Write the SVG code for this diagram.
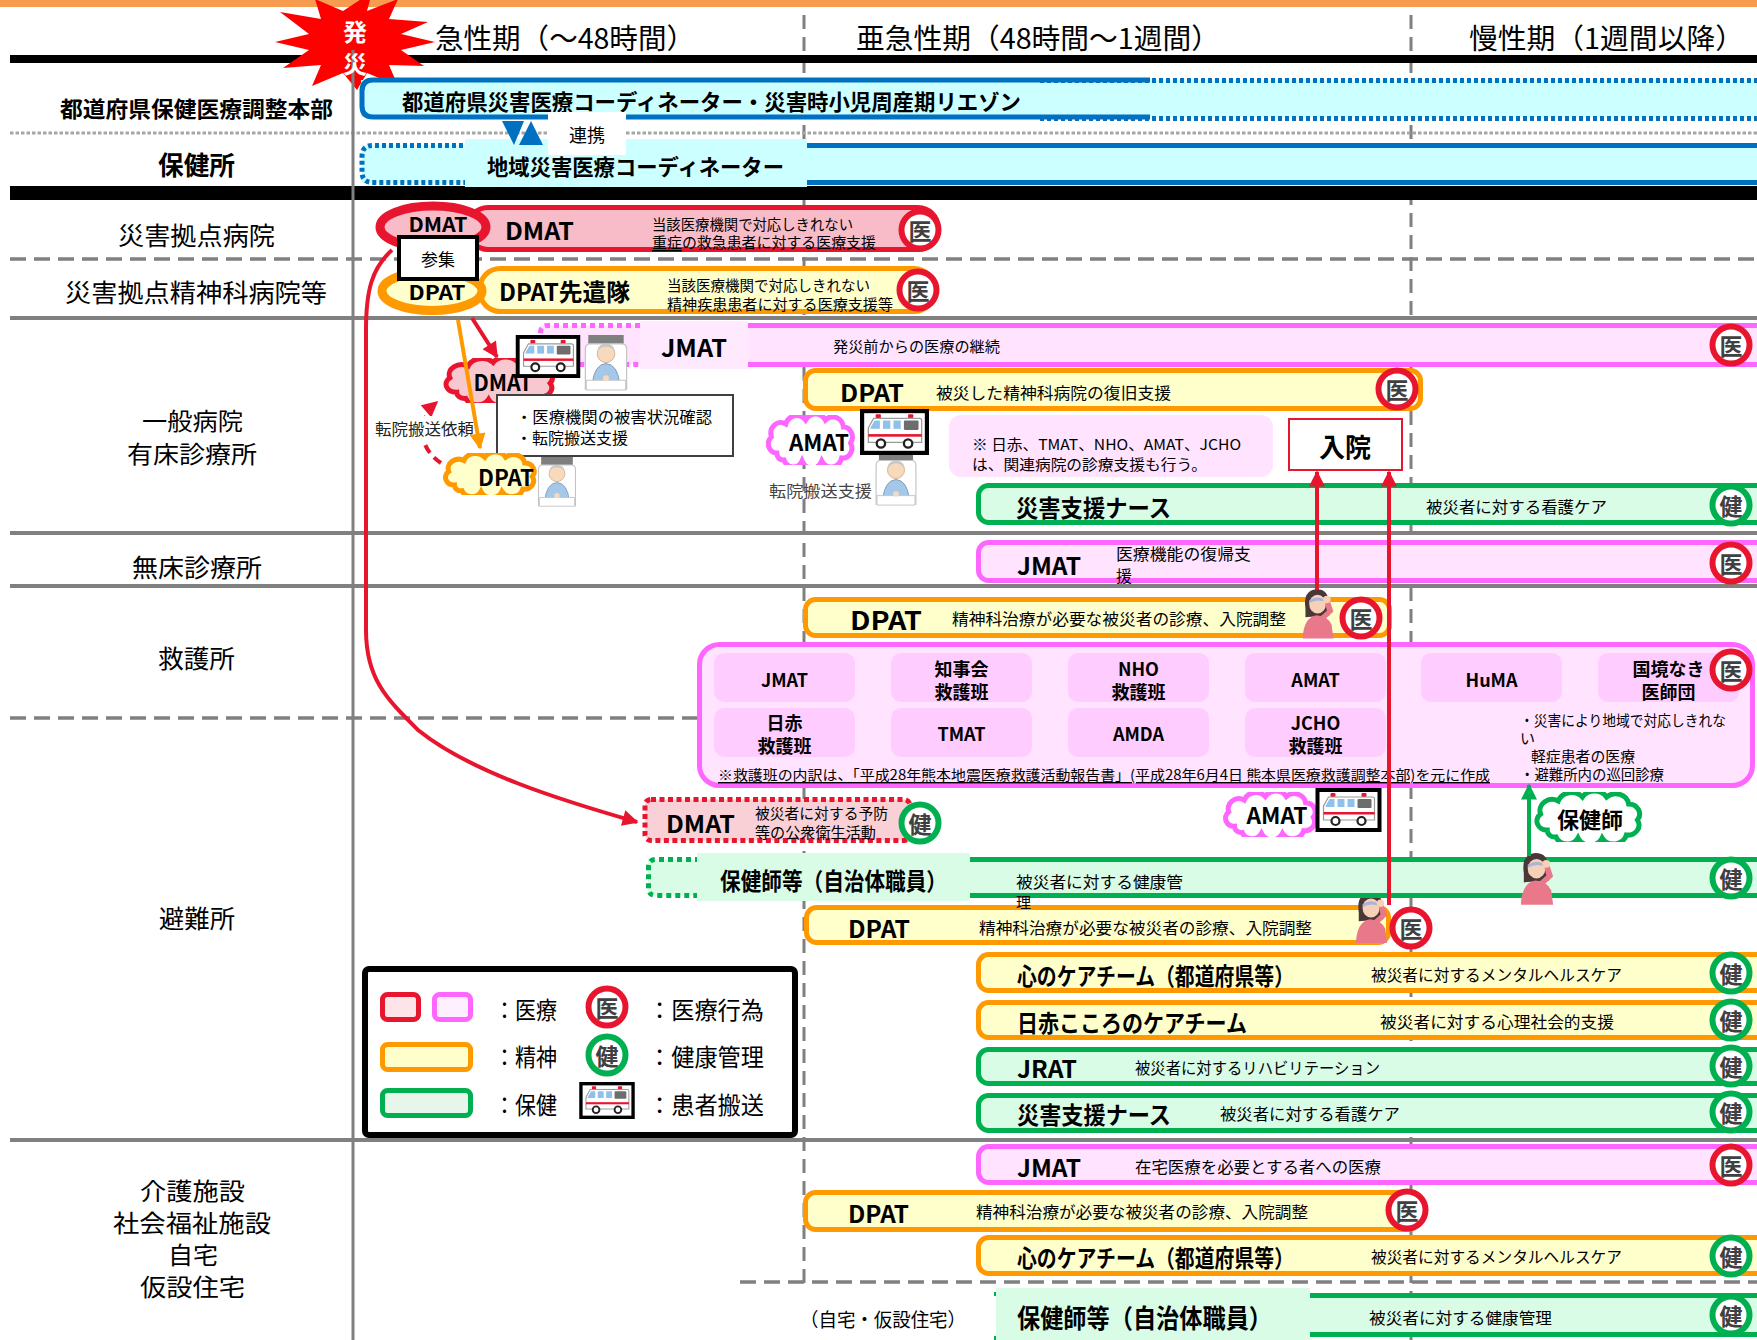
<svg xmlns="http://www.w3.org/2000/svg" width="1757" height="1340" viewBox="0 0 1757 1340">
<style>
text{font-family:"Noto Sans CJK JP","Noto Sans",sans-serif;dominant-baseline:central;fill:#000}
.b{font-weight:700}
.mid{text-anchor:middle}
.hd{font-size:28px}
.lb{font-size:25px;text-anchor:middle}
.lb2{font-size:24px;text-anchor:middle}
.ti{font-size:24px;font-weight:700}
.ds{font-size:16px}
.sm{font-size:15px}
.tile{font-size:18px;font-weight:700;text-anchor:middle}
.cl{font-size:22px;font-weight:700;text-anchor:middle}
.red{fill:#F8BCC8;stroke:#E8152F;stroke-width:5}
.pnk{fill:#FFE3FF;stroke:#FF66FF;stroke-width:5}
.org{fill:#FFFFCC;stroke:#FF9900;stroke-width:5}
.grn{fill:#D9FCE7;stroke:#00B050;stroke-width:5}
.gl{stroke:#808080;fill:none}
</style>
<defs>
<marker id="ar-red" viewBox="0 0 10 10" refX="9" refY="5" markerWidth="4.5" markerHeight="4" orient="auto" markerUnits="strokeWidth"><path d="M0,0 L10,5 L0,10 z" fill="#E8152F"/></marker>
<marker id="ar-org" viewBox="0 0 10 10" refX="9" refY="5" markerWidth="4.5" markerHeight="4" orient="auto" markerUnits="strokeWidth"><path d="M0,0 L10,5 L0,10 z" fill="#FF9900"/></marker>
<marker id="ar-grn" viewBox="0 0 10 10" refX="9" refY="5" markerWidth="4.5" markerHeight="4" orient="auto" markerUnits="strokeWidth"><path d="M0,0 L10,5 L0,10 z" fill="#00B050"/></marker>
<!-- medical-act badge -->
<symbol id="med" viewBox="-22 -22 44 44"><circle r="18.5" fill="#fff" stroke="#E8152F" stroke-width="6"/><text class="b" x="0" y="0" style="font-size:23px;text-anchor:middle;fill:#404040">医</text></symbol>
<!-- health-management badge -->
<symbol id="hlt" viewBox="-22 -22 44 44"><circle r="18.5" fill="#fff" stroke="#00B050" stroke-width="6"/><text class="b" x="0" y="0" style="font-size:23px;text-anchor:middle;fill:#404040">健</text></symbol>
<!-- scalloped cloud outline -->
<symbol id="cloud" viewBox="0 0 100 50" preserveAspectRatio="none"><path vector-effect="non-scaling-stroke" d="M12 38 A9 9 0 0 1 6 22 A11 11 0 0 1 22 9 A13 13 0 0 1 44 5 A13 13 0 0 1 66 5 A12 12 0 0 1 86 12 A10 10 0 0 1 94 28 A10 10 0 0 1 84 43 A12 12 0 0 1 62 46 A12 12 0 0 1 40 46 A11 11 0 0 1 20 45 A7 7 0 0 1 12 38 Z"/></symbol>
<!-- ambulance in a black frame -->
<symbol id="amb" viewBox="0 0 66 44">
<rect x="2" y="2" width="62" height="40" fill="#fff" stroke="#000" stroke-width="4"/>
<rect x="15" y="5" width="5" height="4" rx="1" fill="#E8152F"/>
<rect x="46" y="5" width="5" height="4" rx="1" fill="#E8152F"/>
<path d="M8 32 V18 L13 9 H57 Q59 9 59 11 V32 Z" fill="#fff" stroke="#9a9a9a" stroke-width="1.2"/>
<path d="M10 18 L14 11 H19 V19 H10 Z" fill="#8FC1EA"/>
<rect x="22" y="11" width="7" height="8" fill="#8FC1EA"/>
<rect x="32" y="11" width="7" height="8" fill="#8FC1EA"/>
<rect x="42" y="11" width="14" height="9" rx="1" fill="#6d6d6d"/>
<rect x="8" y="24" width="51" height="2.5" fill="#E8152F"/>
<circle cx="20" cy="33" r="4" fill="#fff" stroke="#222" stroke-width="2.2"/>
<circle cx="46" cy="33" r="4" fill="#fff" stroke="#222" stroke-width="2.2"/>
</symbol>
<!-- elderly patient in a bed -->
<symbol id="pat" viewBox="0 0 48 58">
<rect x="6" y="0" width="36" height="9" fill="#7f7f7f"/>
<path d="M3 56 V14 Q3 9 8 9 H40 Q45 9 45 14 V56" fill="#fff" stroke="#c4c4c4" stroke-width="1.2"/>
<path d="M10 50 Q12 30 24 29 Q36 30 38 50 Z" fill="#A6C8E8" stroke="#7a9ec0" stroke-width="1"/>
<circle cx="24" cy="19" r="9" fill="#F7D9BC" stroke="#c9a98a" stroke-width="0.8"/>
<path d="M15 17 Q16 9 24 9 Q32 9 33 17 Q30 12 24 12 Q18 12 15 17 Z" fill="#c8c8c8"/>
<path d="M4 46 H44 V56 H4 Z" fill="#fff" stroke="#c4c4c4" stroke-width="1"/>
<circle cx="24" cy="44" r="3" fill="#F7D9BC"/>
</symbol>
<!-- unwell person holding forehead -->
<symbol id="wmn" viewBox="0 0 44 56">
<path d="M8 24 Q5 4 20 3 Q33 3 33 18 L34 31 L8 33 Z" fill="#4a3838"/>
<ellipse cx="21" cy="19" rx="9" ry="10" fill="#F7D0B8"/>
<path d="M12 15 Q21 9 30 15 L30 17 Q21 13 12 18 Z" fill="#A9B5D6"/>
<path d="M5 56 Q6 33 20 31 Q32 32 36 41 L38 56 Z" fill="#E8788A"/>
<path d="M27 37 L38 27 L34 15 L29 17 L31 26 L23 33 Z" fill="#E8788A"/>
<circle cx="31" cy="14" r="4" fill="#F7D0B8"/>
</symbol>
</defs>

<rect width="1757" height="1340" fill="#fff"/>
<rect x="0" y="0" width="1757" height="7" fill="#F79B4F"/>

<!-- table grid -->
<g id="grid">
<line class="gl" x1="804" y1="15" x2="804" y2="1290" stroke-width="3" stroke-dasharray="14 8"/>
<line class="gl" x1="1411" y1="15" x2="1411" y2="1340" stroke-width="3" stroke-dasharray="14 8"/>
<rect x="10" y="55" width="1747" height="8" fill="#000"/>
<line x1="10" y1="133" x2="1757" y2="133" stroke="#A6A6A6" stroke-width="3" stroke-dasharray="3.5 2"/>
<rect x="10" y="186" width="1747" height="14" fill="#000"/>
<line class="gl" x1="10" y1="259" x2="1757" y2="259" stroke-width="3.5" stroke-dasharray="16 8"/>
<line class="gl" x1="10" y1="318" x2="1757" y2="318" stroke-width="4"/>
<line class="gl" x1="10" y1="533" x2="1757" y2="533" stroke-width="4"/>
<line class="gl" x1="10" y1="586" x2="1757" y2="586" stroke-width="4"/>
<line class="gl" x1="10" y1="718" x2="697" y2="718" stroke-width="3.5" stroke-dasharray="16 8"/>
<line class="gl" x1="10" y1="1140" x2="1757" y2="1140" stroke-width="4"/>
<line class="gl" x1="740" y1="1282" x2="1757" y2="1282" stroke-width="3.5" stroke-dasharray="16 8"/>
</g>

<!-- onset burst -->
<g id="onset">
<polygon points="435,42 401,50 424,66 389,65 398,86 367,73 357,90 343,73 312,86 321,65 283,68 309,50 275,42 309,34 280,12 321,19 315,-1 343,11 372,-8 367,11 398,-1 389,19 428,22 401,34" fill="#FF0000"/>
<line class="gl" x1="353" y1="50" x2="353" y2="1340" stroke-width="3"/>
<text class="b mid" x="355" y="30" style="font-size:24px;fill:#fff">発</text>
<text class="b mid" x="355" y="62" style="font-size:24px;fill:#fff">災</text>
</g>

<!-- phase headings -->
<g id="phases">
<text class="hd" x="435" y="37" textLength="260" lengthAdjust="spacingAndGlyphs">急性期（～48時間）</text>
<text class="hd" x="856" y="37" textLength="364" lengthAdjust="spacingAndGlyphs">亜急性期（48時間～1週間）</text>
<text class="hd" x="1469" y="37" textLength="275" lengthAdjust="spacingAndGlyphs">慢性期（1週間以降）</text>
</g>

<!-- row headings -->
<g id="rows">
<text class="b mid" x="196.5" y="107" style="font-size:22px" textLength="273" lengthAdjust="spacingAndGlyphs">都道府県保健医療調整本部</text>
<text class="b mid" x="196.5" y="163" style="font-size:26px" textLength="77" lengthAdjust="spacingAndGlyphs">保健所</text>
<text class="lb" x="196.5" y="234" textLength="157" lengthAdjust="spacingAndGlyphs">災害拠点病院</text>
<text class="lb" x="196" y="291" textLength="262" lengthAdjust="spacingAndGlyphs">災害拠点精神科病院等</text>
<text class="lb2" x="192.5" y="419" textLength="101" lengthAdjust="spacingAndGlyphs">一般病院</text>
<text class="lb2" x="192" y="452" textLength="130" lengthAdjust="spacingAndGlyphs">有床診療所</text>
<text class="lb" x="197" y="566" textLength="130" lengthAdjust="spacingAndGlyphs">無床診療所</text>
<text class="lb" x="196.5" y="657" textLength="77" lengthAdjust="spacingAndGlyphs">救護所</text>
<text class="lb" x="197" y="917" textLength="76" lengthAdjust="spacingAndGlyphs">避難所</text>
<text class="lb2" x="192.5" y="1189" textLength="105" lengthAdjust="spacingAndGlyphs">介護施設</text>
<text class="lb2" x="192" y="1221" textLength="158" lengthAdjust="spacingAndGlyphs">社会福祉施設</text>
<text class="lb2" x="193" y="1253" textLength="50" lengthAdjust="spacingAndGlyphs">自宅</text>
<text class="lb2" x="192.5" y="1285" textLength="105" lengthAdjust="spacingAndGlyphs">仮設住宅</text>
<text x="800" y="1318" style="font-size:19px" textLength="166" lengthAdjust="spacingAndGlyphs">（自宅・仮設住宅）</text>
</g>

<!-- coordinators -->
<g id="pref-coordinator">
<rect x="361" y="80" width="1420" height="37" fill="#CCFFFF"/>
<path d="M1150 80 H373 Q362 80 362 91 V106 Q362 117 373 117 H1150" fill="none" stroke="#0070C0" stroke-width="5"/>
<path d="M1040 80.5 H1760 M1040 118.5 H1760" stroke="#0070C0" stroke-width="5" stroke-dasharray="4 3"/>
<text class="b" x="402" y="100" style="font-size:22px" textLength="619" lengthAdjust="spacingAndGlyphs">都道府県災害医療コーディネーター・災害時小児周産期リエゾン</text>
</g>
<g id="local-coordinator">
<rect x="362" y="145" width="1420" height="38" fill="#CCFFFF"/>
<path d="M470 145.5 H373 Q362 145.5 362 156 V172 Q362 182.5 373 182.5 H470" fill="none" stroke="#0070C0" stroke-width="5" stroke-dasharray="4 3"/>
<path d="M800 145.5 H1760 M800 182.5 H1760" stroke="#0070C0" stroke-width="5"/>
<rect x="465" y="139" width="342" height="48" fill="#CCFFFF"/>
<text class="b" x="487" y="165" style="font-size:22px" textLength="297" lengthAdjust="spacingAndGlyphs">地域災害医療コーディネーター</text>
</g>
<g id="liaison">
<polygon points="502,121 524,121 514,145" fill="#0070C0"/>
<polygon points="531,121 519,145 543,145" fill="#0070C0"/>
<rect x="548" y="112" width="78" height="43" fill="#fff"/>
<text class="mid" x="587" y="134" style="font-size:18px">連携</text>
</g>

<!-- disaster base hospitals -->
<g id="dmat-base">
<rect x="468" y="207.5" width="470" height="42" rx="20" class="red"/>
<text class="ti" x="505" y="229" textLength="69" lengthAdjust="spacingAndGlyphs">DMAT</text>
<text class="sm" x="652" y="223" textLength="201" lengthAdjust="spacingAndGlyphs">当該医療機関で対応しきれない</text>
<text class="sm" x="652" y="241" textLength="224" lengthAdjust="spacingAndGlyphs"><tspan text-decoration="underline">重症</tspan>の救急患者に対する医療支援</text>
<use href="#med" x="898" y="208" width="44" height="44"/>
</g>
<g id="dpat-advance">
<rect x="480" y="268.5" width="454" height="43" rx="20" class="org"/>
<text class="ti" x="499" y="290" textLength="131" lengthAdjust="spacingAndGlyphs">DPAT先遣隊</text>
<text class="sm" x="667" y="284" textLength="203" lengthAdjust="spacingAndGlyphs">当該医療機関で対応しきれない</text>
<text class="sm" x="667" y="303" textLength="226" lengthAdjust="spacingAndGlyphs">精神疾患患者に対する医療支援等</text>
<use href="#med" x="896" y="268" width="44" height="44"/>
</g>

<!-- general hospitals -->
<g id="jmat-general">
<rect x="540" y="325.5" width="1240" height="39" fill="#FFE3FF"/>
<path d="M748 325.5 H1780 M748 364.5 H1780" stroke="#FF66FF" stroke-width="5"/>
<path d="M640 325.5 H548 Q540.5 325.5 540.5 333 V357 Q540.5 364.5 548 364.5 H640" fill="none" stroke="#FF66FF" stroke-width="5" stroke-dasharray="5 4"/>
<rect x="640" y="321" width="108" height="48" fill="#FFE9FF"/>
<text class="ti" x="661" y="346" textLength="66" lengthAdjust="spacingAndGlyphs">JMAT</text>
<text class="sm" x="833" y="345" textLength="167" lengthAdjust="spacingAndGlyphs">発災前からの医療の継続</text>
<use href="#med" x="1709" y="323" width="44" height="44"/>
</g>
<g id="dmat-field">
<use href="#cloud" x="443" y="358" width="114" height="45" fill="#F8C8D0" stroke="#E8152F" stroke-width="5"/>
<text class="cl" x="503" y="381" textLength="59" lengthAdjust="spacingAndGlyphs">DMAT</text>
</g>
<g id="transfer-1">
<use href="#pat" x="582" y="335" width="48" height="57"/>
<use href="#amb" x="515" y="335" width="66" height="43"/>
</g>
<g id="dmat-tasks">
<rect x="497" y="395" width="236" height="61" fill="#fff" stroke="#404040" stroke-width="2"/>
<text x="516" y="416" style="font-size:15.5px" textLength="196" lengthAdjust="spacingAndGlyphs">・医療機関の被害状況確認</text>
<text x="516" y="437" style="font-size:15.5px" textLength="112" lengthAdjust="spacingAndGlyphs">・転院搬送支援</text>
</g>
<g id="dpat-field">
<use href="#cloud" x="443" y="453" width="95" height="42" fill="#FFFFCC" stroke="#FF9900" stroke-width="5"/>
<text class="cl" x="506" y="476" textLength="56" lengthAdjust="spacingAndGlyphs">DPAT</text>
<use href="#pat" x="532" y="457" width="50" height="51"/>
</g>
<g id="dpat-recovery">
<rect x="805.5" y="370.5" width="615" height="38" rx="10" class="org"/>
<text class="ti" x="840" y="391" textLength="64" lengthAdjust="spacingAndGlyphs">DPAT</text>
<text class="ds" x="936" y="392" textLength="235" lengthAdjust="spacingAndGlyphs">被災した精神科病院の復旧支援</text>
<use href="#med" x="1375" y="367" width="44" height="44"/>
</g>
<g id="amat-transfer">
<use href="#cloud" x="766" y="415" width="90" height="50" fill="#fff" stroke="#FF66FF" stroke-width="5"/>
<text class="cl" x="819" y="441" textLength="60" lengthAdjust="spacingAndGlyphs">AMAT</text>
<use href="#pat" x="872" y="452" width="48" height="55"/>
<use href="#amb" x="860" y="409" width="69" height="46"/>
<text class="ds" x="769" y="490" textLength="103" lengthAdjust="spacingAndGlyphs" style="fill:#444">転院搬送支援</text>
</g>
<g id="note-affiliated">
<rect x="949" y="415" width="324" height="62" rx="12" fill="#FFE3FF"/>
<text x="972" y="443" style="font-size:15px" textLength="269" lengthAdjust="spacingAndGlyphs">※ 日赤、TMAT、NHO、AMAT、JCHO</text>
<text x="972" y="463" style="font-size:15px" textLength="235" lengthAdjust="spacingAndGlyphs">は、関連病院の診療支援も行う。</text>
</g>
<g id="admission">
<rect x="1289" y="419" width="113" height="51" fill="#fff" stroke="#E8152F" stroke-width="2"/>
<text class="b mid" x="1345" y="445" style="font-size:26px">入院</text>
</g>
<g id="nurse-general">
<rect x="978.5" y="485.5" width="800" height="37" rx="10" class="grn"/>
<text class="ti" x="1016" y="506" textLength="155" lengthAdjust="spacingAndGlyphs">災害支援ナース</text>
<text class="ds" x="1426" y="506" textLength="181" lengthAdjust="spacingAndGlyphs">被災者に対する看護ケア</text>
<use href="#hlt" x="1709" y="483" width="44" height="44"/>
</g>

<!-- clinics without beds -->
<g id="jmat-clinic">
<rect x="978.5" y="542.5" width="800" height="38" rx="10" class="pnk"/>
<text class="ti" x="1017" y="564" textLength="64" lengthAdjust="spacingAndGlyphs">JMAT</text>
<text class="ds" x="1116" y="553" textLength="135" lengthAdjust="spacingAndGlyphs">医療機能の復帰支</text>
<text class="ds" x="1116" y="575">援</text>
<use href="#med" x="1709" y="541" width="44" height="44"/>
</g>

<!-- first-aid stations -->
<g id="dpat-aid">
<rect x="805.5" y="599.5" width="584" height="36" rx="10" class="org"/>
<text class="b" x="850" y="618" style="font-size:26px" textLength="72" lengthAdjust="spacingAndGlyphs">DPAT</text>
<text class="ds" x="952" y="618" textLength="334" lengthAdjust="spacingAndGlyphs">精神科治療が必要な被災者の診療、入院調整</text>
<use href="#wmn" x="1298" y="585" width="41" height="55"/>
<use href="#med" x="1339" y="596" width="44" height="44"/>
</g>
<g id="aid-teams">
<rect x="699.5" y="644.5" width="1053" height="141" rx="20" class="pnk"/>
<g fill="#FFCCFF">
<rect x="714" y="653" width="141" height="49" rx="10"/>
<rect x="891" y="653" width="141" height="49" rx="10"/>
<rect x="1068" y="653" width="141" height="49" rx="10"/>
<rect x="1245" y="653" width="141" height="49" rx="10"/>
<rect x="1421" y="653" width="141" height="49" rx="10"/>
<rect x="1598" y="653" width="141" height="49" rx="10"/>
<rect x="714" y="708" width="141" height="49" rx="10"/>
<rect x="891" y="708" width="141" height="49" rx="10"/>
<rect x="1068" y="708" width="141" height="49" rx="10"/>
<rect x="1245" y="708" width="141" height="49" rx="10"/>
</g>
<text class="tile" x="784.5" y="679">JMAT</text>
<text class="tile" x="961.5" y="668">知事会</text>
<text class="tile" x="961.5" y="691">救護班</text>
<text class="tile" x="1138.5" y="668">NHO</text>
<text class="tile" x="1138.5" y="691">救護班</text>
<text class="tile" x="1315.5" y="679">AMAT</text>
<text class="tile" x="1491.5" y="679">HuMA</text>
<text class="tile" x="1668.5" y="668">国境なき</text>
<text class="tile" x="1668.5" y="691">医師団</text>
<text class="tile" x="784.5" y="722">日赤</text>
<text class="tile" x="784.5" y="745">救護班</text>
<text class="tile" x="961.5" y="733">TMAT</text>
<text class="tile" x="1138.5" y="733">AMDA</text>
<text class="tile" x="1315.5" y="722">JCHO</text>
<text class="tile" x="1315.5" y="745">救護班</text>
<text x="718" y="774" style="font-size:14px" text-decoration="underline" textLength="772" lengthAdjust="spacingAndGlyphs">※救護班の内訳は、「平成28年熊本地震医療救護活動報告書」(平成28年6月4日 熊本県医療救護調整本部)を元に作成</text>
<text class="sm" x="1520" y="719" textLength="206" lengthAdjust="spacingAndGlyphs">・災害により地域で対応しきれな</text>
<text class="sm" x="1520" y="737">い</text>
<text class="sm" x="1531" y="755" textLength="104" lengthAdjust="spacingAndGlyphs">軽症患者の医療</text>
<text class="sm" x="1520" y="773" textLength="144" lengthAdjust="spacingAndGlyphs">・避難所内の巡回診療</text>
<use href="#med" x="1709" y="648" width="44" height="44"/>
</g>

<!-- evacuation shelters -->
<g id="dmat-shelter">
<rect x="645" y="799.5" width="265" height="41" rx="6" fill="#FAD0D7" stroke="#E8152F" stroke-width="5" stroke-dasharray="5 3.5"/>
<text class="ti" x="666" y="822" textLength="69" lengthAdjust="spacingAndGlyphs">DMAT</text>
<text class="sm" x="755" y="812" textLength="133" lengthAdjust="spacingAndGlyphs">被災者に対する予防</text>
<text class="sm" x="755" y="831" textLength="121" lengthAdjust="spacingAndGlyphs">等の公衆衛生活動</text>
<use href="#hlt" x="898" y="801" width="44" height="44"/>
</g>
<g id="amat-shelter">
<use href="#cloud" x="1223" y="792" width="96" height="45" fill="#fff" stroke="#FF66FF" stroke-width="5"/>
<text class="cl" x="1277" y="814" textLength="61" lengthAdjust="spacingAndGlyphs">AMAT</text>
<use href="#amb" x="1315" y="788" width="67" height="44"/>
</g>
<g id="phn-cloud">
<use href="#cloud" x="1534" y="792" width="110" height="50" fill="#fff" stroke="#00B050" stroke-width="5"/>
<text class="cl" x="1590" y="818" textLength="66" lengthAdjust="spacingAndGlyphs">保健師</text>
</g>
<g id="dpat-shelter">
<rect x="806.5" y="907.5" width="582" height="35" rx="10" class="org"/>
<text class="ti" x="848" y="927" textLength="62" lengthAdjust="spacingAndGlyphs">DPAT</text>
<text class="ds" x="979" y="927" textLength="333" lengthAdjust="spacingAndGlyphs">精神科治療が必要な被災者の診療、入院調整</text>
<use href="#wmn" x="1350" y="890" width="44" height="53"/>
<use href="#med" x="1389" y="906" width="44" height="44"/>
</g>
<g id="phn-shelter">
<rect x="648" y="859.5" width="1135" height="36" fill="#D9FCE7"/>
<path d="M970 859.5 H1780 M970 895.5 H1780" stroke="#00B050" stroke-width="5"/>
<path d="M700 859.5 H656 Q648.5 859.5 648.5 867 V888 Q648.5 895.5 656 895.5 H700" fill="none" stroke="#00B050" stroke-width="5" stroke-dasharray="5 4"/>
<rect x="697" y="853" width="273" height="48" fill="#D9FCE7"/>
<text class="ti" x="720" y="879" textLength="227" lengthAdjust="spacingAndGlyphs">保健師等（自治体職員）</text>
<text class="ds" x="1016" y="881" textLength="167" lengthAdjust="spacingAndGlyphs">被災者に対する健康管</text>
<text class="sm" x="1016" y="901">理</text>
<use href="#wmn" x="1516" y="850" width="43" height="55"/>
<use href="#hlt" x="1709" y="856" width="44" height="44"/>
</g>
<g id="care-pref-shelter">
<rect x="978.5" y="954.5" width="800" height="36" rx="10" class="org"/>
<text class="ti" x="1017" y="974" textLength="277" lengthAdjust="spacingAndGlyphs">心のケアチーム（都道府県等）</text>
<text class="ds" x="1371" y="974" textLength="251" lengthAdjust="spacingAndGlyphs">被災者に対するメンタルヘルスケア</text>
<use href="#hlt" x="1709" y="951" width="44" height="44"/>
</g>
<g id="care-redcross">
<rect x="978.5" y="1002.5" width="800" height="35" rx="10" class="org"/>
<text class="ti" x="1017" y="1021" textLength="230" lengthAdjust="spacingAndGlyphs">日赤こころのケアチーム</text>
<text class="ds" x="1380" y="1021" textLength="234" lengthAdjust="spacingAndGlyphs">被災者に対する心理社会的支援</text>
<use href="#hlt" x="1709" y="998" width="44" height="44"/>
</g>
<g id="jrat">
<rect x="978.5" y="1049.5" width="800" height="34" rx="10" class="grn"/>
<text class="ti" x="1017" y="1067" textLength="60" lengthAdjust="spacingAndGlyphs">JRAT</text>
<text class="ds" x="1135" y="1067" textLength="245" lengthAdjust="spacingAndGlyphs">被災者に対するリハビリテーション</text>
<use href="#hlt" x="1709" y="1044" width="44" height="44"/>
</g>
<g id="nurse-shelter">
<rect x="978.5" y="1095.5" width="800" height="35" rx="10" class="grn"/>
<text class="ti" x="1017" y="1113" textLength="154" lengthAdjust="spacingAndGlyphs">災害支援ナース</text>
<text class="ds" x="1220" y="1113" textLength="180" lengthAdjust="spacingAndGlyphs">被災者に対する看護ケア</text>
<use href="#hlt" x="1709" y="1090" width="44" height="44"/>
</g>

<!-- care facilities / homes -->
<g id="jmat-home">
<rect x="978.5" y="1146.5" width="800" height="36" rx="10" class="pnk"/>
<text class="ti" x="1017" y="1166" textLength="64" lengthAdjust="spacingAndGlyphs">JMAT</text>
<text class="ds" x="1135" y="1166" textLength="246" lengthAdjust="spacingAndGlyphs">在宅医療を必要とする者への医療</text>
<use href="#med" x="1709" y="1143" width="44" height="44"/>
</g>
<g id="dpat-home">
<rect x="805.5" y="1192.5" width="613" height="37" rx="10" class="org"/>
<text class="ti" x="848" y="1212" textLength="61" lengthAdjust="spacingAndGlyphs">DPAT</text>
<text class="ds" x="976" y="1211" textLength="332" lengthAdjust="spacingAndGlyphs">精神科治療が必要な被災者の診療、入院調整</text>
<use href="#med" x="1385" y="1188" width="44" height="44"/>
</g>
<g id="care-pref-home">
<rect x="978.5" y="1237.5" width="800" height="36" rx="10" class="org"/>
<text class="ti" x="1017" y="1256" textLength="277" lengthAdjust="spacingAndGlyphs">心のケアチーム（都道府県等）</text>
<text class="ds" x="1371" y="1256" textLength="251" lengthAdjust="spacingAndGlyphs">被災者に対するメンタルヘルスケア</text>
<use href="#hlt" x="1709" y="1234" width="44" height="44"/>
</g>
<g id="phn-home">
<rect x="996" y="1295.5" width="790" height="39" fill="#D9FCE7"/>
<path d="M1305 1295.5 H1780 M1305 1334.5 H1780" stroke="#00B050" stroke-width="5"/>
<path d="M995.5 1292 V1340" stroke="#00B050" stroke-width="3" stroke-dasharray="4 40"/>
<rect x="996" y="1288" width="314" height="52" fill="#D9FCE7"/>
<text class="b" x="1017" y="1316" style="font-size:26px" textLength="255" lengthAdjust="spacingAndGlyphs">保健師等（自治体職員）</text>
<text class="ds" x="1369" y="1317" textLength="183" lengthAdjust="spacingAndGlyphs">被災者に対する健康管理</text>
<use href="#hlt" x="1709" y="1293" width="44" height="44"/>
</g>

<!-- connectors -->
<g id="connectors" fill="none">
<path d="M392 250 C372 268 366 290 366 330 L366 630 C366 680 388 700 418 730 C470 772 560 800 637 822" stroke="#E8152F" stroke-width="4" marker-end="url(#ar-red)"/>
<path d="M472 318 L497 357" stroke="#E8152F" stroke-width="4" marker-end="url(#ar-red)"/>
<path d="M441 463 C418 448 416 420 437 402" stroke="#E8152F" stroke-width="4" stroke-dasharray="9 6" marker-end="url(#ar-red)"/>
<path d="M1317 590 V472" stroke="#E8152F" stroke-width="4" marker-end="url(#ar-red)"/>
<path d="M1389 905 V472" stroke="#E8152F" stroke-width="4" marker-end="url(#ar-red)"/>
<path d="M1529 856 V785" stroke="#00B050" stroke-width="4" marker-end="url(#ar-grn)"/>
</g>

<!-- transfer-request label sits over the dashed return arc -->
<g id="transfer-request">
<rect x="374" y="416" width="96" height="24" fill="#fff"/>
<text class="ds" x="375" y="428" textLength="99" lengthAdjust="spacingAndGlyphs" style="fill:#222">転院搬送依頼</text>
</g>
<path id="dpat-dispatch" d="M458 320 L480 448" fill="none" stroke="#FF9900" stroke-width="4" marker-end="url(#ar-org)"/>

<!-- origin teams drawn over connector starts -->
<g id="dmat-origin">
<ellipse cx="433" cy="227" rx="53" ry="21" fill="#F8BCC8" stroke="#E8152F" stroke-width="9"/>
<text class="b mid" x="438" y="223" style="font-size:20px" textLength="59" lengthAdjust="spacingAndGlyphs">DMAT</text>
</g>
<g id="dpat-origin">
<ellipse cx="432" cy="291" rx="50" ry="19.5" fill="#FFFFCC" stroke="#FF9900" stroke-width="9"/>
<text class="b mid" x="437" y="291" style="font-size:20px" textLength="57" lengthAdjust="spacingAndGlyphs">DPAT</text>
</g>
<g id="assemble">
<rect x="399" y="237" width="78" height="42" fill="#fff" stroke="#000" stroke-width="4"/>
<text class="mid" x="438" y="258" style="font-size:17px">参集</text>
</g>

<!-- legend -->
<g id="legend">
<rect x="365" y="969" width="430" height="166" rx="4" fill="#fff" stroke="#000" stroke-width="6"/>
<rect x="382.5" y="994.5" width="36" height="25" rx="5" fill="#FCE4E8" stroke="#E8152F" stroke-width="5"/>
<rect x="434.5" y="994.5" width="36" height="25" rx="5" fill="#FFF0FF" stroke="#FF66FF" stroke-width="5"/>
<rect x="382.5" y="1044.5" width="88" height="25" rx="5" fill="#FFFFCC" stroke="#FF9900" stroke-width="5"/>
<rect x="382.5" y="1090.5" width="88" height="25" rx="5" fill="#E6F6EB" stroke="#00B050" stroke-width="5"/>
<text x="494" y="1008" style="font-size:24px" textLength="63" lengthAdjust="spacingAndGlyphs">：医療</text>
<text x="494" y="1055" style="font-size:24px" textLength="63" lengthAdjust="spacingAndGlyphs">：精神</text>
<text x="494" y="1103" style="font-size:24px" textLength="63" lengthAdjust="spacingAndGlyphs">：保健</text>
<use href="#med" x="585" y="985" width="44" height="44"/>
<use href="#hlt" x="585" y="1033" width="44" height="44"/>
<use href="#amb" x="579" y="1082" width="56" height="37"/>
<text x="648" y="1008" style="font-size:24px" textLength="116" lengthAdjust="spacingAndGlyphs">：医療行為</text>
<text x="648" y="1055" style="font-size:24px" textLength="116" lengthAdjust="spacingAndGlyphs">：健康管理</text>
<text x="648" y="1103" style="font-size:24px" textLength="116" lengthAdjust="spacingAndGlyphs">：患者搬送</text>
</g>
</svg>
